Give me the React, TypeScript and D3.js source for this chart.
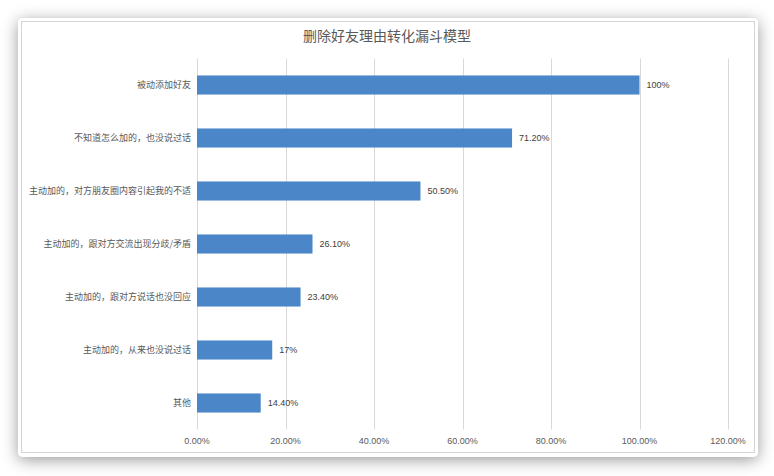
import React from "react";
import * as d3 from "d3";

const title = "删除好友理由转化漏斗模型";
const categories = [
  "被动添加好友",
  "不知道怎么加的，也没说过话",
  "主动加的，对方朋友圈内容引起我的不适",
  "主动加的，跟对方交流出现分歧/矛盾",
  "主动加的，跟对方说话也没回应",
  "主动加的，从来也没说过话",
  "其他",
];
const values = [1.0, 0.712, 0.505, 0.261, 0.234, 0.17, 0.144];
const valueLabels = ["100%", "71.20%", "50.50%", "26.10%", "23.40%", "17%", "14.40%"];
const xTicks = [0, 0.2, 0.4, 0.6, 0.8, 1.0, 1.2];

const W = 774;
const H = 476;
const plot = { left: 197, right: 728, top: 58.5, bottom: 429.5 };
const cjk = "'Noto Sans CJK SC', 'Noto Sans', sans-serif";
const latin = "'Liberation Sans', Arial, sans-serif";

export default function App() {
  const x = d3.scaleLinear().domain([0, 1.2]).range([plot.left, plot.right]);
  const y = d3
    .scaleBand<string>()
    .domain(categories)
    .range([plot.top, plot.bottom])
    .paddingInner(0.64)
    .paddingOuter(0.32);

  return (
    <svg
      width={W}
      height={H}
      style={{ position: "fixed", left: 0, top: 0, background: "#fff" }}
    >
      <defs>
        <filter id="sh" x="-10%" y="-10%" width="120%" height="120%">
          <feDropShadow dx="0" dy="3" stdDeviation="8" floodColor="#000" floodOpacity="0.4" />
        </filter>
      </defs>
      <rect x={0} y={0} width={W} height={H} fill="#fff" />
      <rect x={18} y={18} width={740} height={439} rx={5} ry={5} fill="#fff" filter="url(#sh)" />
      <rect x={21.5} y={21.5} width={733} height={431} fill="#fff" stroke="#d4d4d4" strokeWidth={1} />

      <text
        x={387}
        y={41}
        textAnchor="middle"
        fontFamily={cjk}
        fontSize={14}
        fill="#595959"
      >
        {title}
      </text>

      {xTicks.map((t) => (
        <g key={t}>
          <line
            x1={Math.round(x(t)) + 0.5}
            x2={Math.round(x(t)) + 0.5}
            y1={plot.top}
            y2={plot.bottom}
            stroke="#d9d9d9"
            strokeWidth={1}
          />
          <text
            x={x(t)}
            y={444}
            textAnchor="middle"
            fontFamily={latin}
            fontSize={9}
            fill="#595959"
          >
            {d3.format(".2%")(t)}
          </text>
        </g>
      ))}

      {categories.map((c, i) => {
        const by = y(c) as number;
        const bh = y.bandwidth();
        return (
          <g key={c}>
            <rect x={x(0)} y={by} width={x(values[i]) - x(0)} height={bh} fill="#4a86c8" />
            <text
              x={191}
              y={by + bh / 2}
              dy="0.35em"
              textAnchor="end"
              fontFamily={cjk}
              fontSize={9}
              fill="#595959"
            >
              {c}
            </text>
            <text
              x={x(values[i]) + 7}
              y={by + bh / 2}
              dy="0.35em"
              fontFamily={latin}
              fontSize={9}
              fill="#404040"
            >
              {valueLabels[i]}
            </text>
          </g>
        );
      })}
    </svg>
  );
}
